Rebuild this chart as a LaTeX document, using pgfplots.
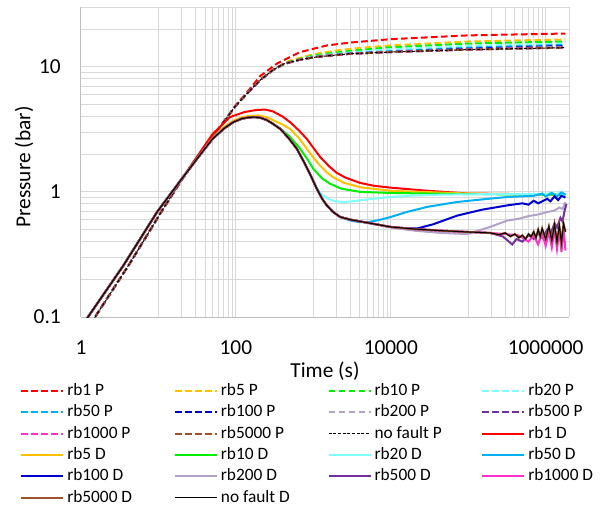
\documentclass[12pt,border=0pt]{standalone}
\usepackage{fontspec}
\setmainfont{Carlito}
\usepackage{pgfplots}
\pgfplotsset{compat=1.18}

\definecolor{cRed}{HTML}{FF0000}
\definecolor{cOrange}{HTML}{FFC000}
\definecolor{cGreen}{HTML}{00F000}
\definecolor{cCyan}{HTML}{80FFFF}
\definecolor{cLBlue}{HTML}{00B0F0}
\definecolor{cBlue}{HTML}{0000CC}
\definecolor{cLav}{HTML}{B3A2C7}
\definecolor{cPurple}{HTML}{7030A0}
\definecolor{cMag}{HTML}{FF33CC}
\definecolor{cBrown}{HTML}{A0522D}
\definecolor{gridgray}{HTML}{D9D9D9}
\definecolor{axisgray}{HTML}{BFBFBF}

\pgfplotsset{
  Pst/.style={dash pattern=on 5pt off 2.5pt, line width=1.5pt},
  Dst/.style={line width=1.5pt},
}

\begin{document}
\begin{tikzpicture}
\path[use as bounding box] (-60.75pt,-143.25pt) rectangle (392.25pt,237.75pt);
\begin{axis}[
  scale only axis,
  width=366pt, height=232.5pt,
  xmode=log, ymode=log,
  xmin=1, xmax=2e6, ymin=0.1, ymax=30,
  xtick={1,100,10000,1000000},
  xticklabels={1,100,10000,1000000},
  ytick={0.1,1,10},
  yticklabels={0.1,1,10},
  minor xtick={10,20,30,40,50,60,70,80,90,1000,2000,3000,4000,5000,6000,7000,8000,9000,100000,200000,300000,400000,500000,600000,700000,800000,900000,2000000},
  minor ytick={0.2,0.3,0.4,0.5,0.6,0.7,0.8,0.9,2,3,4,5,6,7,8,9,20,30},
  grid=both,
  major grid style={gridgray, line width=0.75pt},
  minor grid style={gridgray, line width=0.75pt},
  major tick length=0pt, minor tick length=0pt,
  axis x line*=bottom, axis y line*=left,
  axis line style={axisgray, line width=0.75pt, -},
  tick label style={font=\fontsize{16}{19}\selectfont},
  label style={font=\fontsize{16}{19}\selectfont},
  xticklabel style={anchor=north, inner sep=0pt, yshift=-17.4pt},
  yticklabel style={anchor=east, inner sep=0pt, xshift=-15pt},
  xlabel={Time (s)},
  ylabel={Pressure (bar)},
  xlabel style={at={(axis description cs:0.5,-0.174)}, anchor=center},
  ylabel style={at={(axis description cs:-0.1168,0.484)}, anchor=center},
  legend columns=4,
  legend style={at={(axis description cs:-0.125,-0.211)}, anchor=north west,
    draw=none, fill=none, inner sep=0pt, row sep=3.3pt,
    font=\fontsize{13}{15.6}\selectfont,
    nodes={inner sep=0pt, text height=9.5pt, text depth=3.2pt},
    /tikz/every odd column/.append style={column sep=2.25pt}},
  legend image code/.code={\draw[#1] (0pt,0pt) -- (31.5pt,0pt);},
  no markers,
]
% ---------- P curves (dashed) ----------
\addplot[cRed, Pst] coordinates {(1,0.063)(1.52,0.1)(4.3,0.27)(11,0.7)(20,1.25)(35,2.05)(60,3.2)(100,4.95)(150,6.6)(205,8.4)(340,10.6)(676,13.1)(1510,14.8)(3000,15.6)(10000,16.6)(100000,17.8)(1000000,18.3)(1800000,18.4)};
\addlegendentry{\makebox[80pt][l]{rb1 P}}
\addplot[cOrange, Pst] coordinates {(1,0.063)(1.52,0.1)(4.3,0.27)(11,0.7)(20,1.25)(35,2.05)(60,3.2)(100,4.9)(150,6.4)(205,7.85)(300,9.5)(500,11.2)(1000,12.6)(2000,13.5)(3000,13.9)(10000,14.8)(100000,15.9)(1000000,16.4)(1800000,16.5)};
\addlegendentry{\makebox[80pt][l]{rb5 P}}
\addplot[cGreen, Pst] coordinates {(1,0.063)(1.52,0.1)(4.3,0.27)(11,0.7)(20,1.25)(35,2.05)(60,3.2)(100,4.9)(150,6.4)(205,7.8)(300,9.4)(500,11.0)(1000,12.3)(2000,13.0)(3000,13.4)(10000,14.3)(100000,15.3)(1000000,15.8)(1800000,15.9)};
\addlegendentry{\makebox[80pt][l]{rb10 P}}
\addplot[cCyan, Pst] coordinates {(1,0.063)(1.52,0.1)(4.3,0.27)(11,0.7)(20,1.25)(35,2.05)(60,3.2)(100,4.9)(150,6.4)(205,7.8)(300,9.4)(411,10.5)(676,11.4)(1000,12.1)(3000,13.0)(10000,13.8)(100000,14.7)(1000000,15.2)(1800000,15.3)};
\addlegendentry{\makebox[80pt][l]{rb20 P}}
\addplot[cLBlue, Pst] coordinates {(1,0.063)(1.52,0.1)(4.3,0.27)(11,0.7)(20,1.25)(35,2.05)(60,3.2)(100,4.9)(150,6.4)(205,7.8)(300,9.4)(411,10.5)(676,11.4)(1120,12.0)(3000,12.8)(10000,13.3)(100000,14.2)(1000000,14.8)(1800000,14.95)};
\addlegendentry{\makebox[80pt][l]{rb50 P}}
\addplot[cBlue, Pst] coordinates {(1,0.063)(1.52,0.1)(4.3,0.27)(11,0.7)(20,1.25)(35,2.05)(60,3.2)(100,4.9)(150,6.4)(205,7.8)(300,9.4)(411,10.5)(676,11.4)(1120,12.0)(3000,12.7)(10000,13.15)(100000,13.9)(1000000,14.5)(1800000,14.6)};
\addlegendentry{\makebox[80pt][l]{rb100 P}}
\addplot[cLav, Pst] coordinates {(1,0.063)(1.52,0.1)(4.3,0.27)(11,0.7)(20,1.25)(35,2.05)(60,3.2)(100,4.9)(150,6.4)(205,7.8)(300,9.4)(411,10.5)(676,11.4)(1120,12.0)(3000,12.7)(10000,13.1)(100000,13.75)(1000000,14.3)(1800000,14.4)};
\addlegendentry{\makebox[80pt][l]{rb200 P}}
\addplot[cPurple, Pst] coordinates {(1,0.063)(1.52,0.1)(4.3,0.27)(11,0.7)(20,1.25)(35,2.05)(60,3.2)(100,4.9)(150,6.4)(205,7.8)(300,9.4)(411,10.5)(676,11.4)(1120,12.0)(3000,12.7)(10000,13.1)(100000,13.7)(1000000,14.15)(1800000,14.25)};
\addlegendentry{\makebox[80pt][l]{rb500 P}}
\addplot[cMag, Pst] coordinates {(1,0.063)(1.52,0.1)(4.3,0.27)(11,0.7)(20,1.25)(35,2.05)(60,3.2)(100,4.9)(150,6.4)(205,7.8)(300,9.4)(411,10.5)(676,11.4)(1120,12.0)(3000,12.7)(10000,13.1)(100000,13.7)(1000000,14.1)(1800000,14.2)};
\addlegendentry{\makebox[80pt][l]{rb1000 P}}
\addplot[cBrown, Pst] coordinates {(1,0.063)(1.52,0.1)(4.3,0.27)(11,0.7)(20,1.25)(35,2.05)(60,3.2)(100,4.9)(150,6.4)(205,7.8)(300,9.4)(411,10.5)(676,11.4)(1120,12.0)(3000,12.7)(10000,13.1)(100000,13.7)(1000000,14.1)(1800000,14.2)};
\addlegendentry{\makebox[80pt][l]{rb5000 P}}
\addplot[black, dash pattern=on 2.2pt off 1.3pt, line width=0.75pt] coordinates {(1,0.063)(1.52,0.1)(4.3,0.27)(11,0.7)(20,1.25)(35,2.05)(60,3.2)(100,4.9)(150,6.4)(205,7.8)(300,9.4)(411,10.5)(676,11.4)(1120,12.0)(3000,12.7)(10000,13.1)(100000,13.7)(1000000,14.1)(1800000,14.2)};
\addlegendentry{\makebox[80pt][l]{no fault P}}
% ---------- D curves (solid) ----------
\addplot[cRed, Dst] coordinates {(1,0.083)(1.23,0.1)(3.5,0.256)(9.6,0.69)(20,1.27)(35,2.1)(50,2.9)(84,3.96)(130,4.35)(180,4.5)(238,4.55)(300,4.4)(400,4.0)(500,3.61)(650,3.1)(824,2.65)(1000,2.25)(1224,1.9)(1600,1.6)(2000,1.42)(2600,1.3)(4000,1.18)(6000,1.12)(10000,1.08)(30000,1.02)(100000,0.97)(1800000,0.95)};
\addlegendentry{\makebox[80pt][l]{rb1 D}}
\addplot[cOrange, Dst] coordinates {(1,0.083)(1.23,0.1)(3.5,0.256)(9.6,0.69)(20,1.27)(35,2.0)(50,2.7)(70,3.3)(92,3.7)(120,3.95)(150,4.05)(195,4.08)(250,3.95)(300,3.75)(400,3.45)(500,3.19)(650,2.7)(824,2.21)(1000,1.88)(1224,1.62)(1500,1.43)(1800,1.31)(2500,1.18)(4000,1.09)(10000,1.02)(100000,0.97)(1800000,0.95)};
\addlegendentry{\makebox[80pt][l]{rb5 D}}
\addplot[cGreen, Dst] coordinates {(1,0.083)(1.23,0.1)(3.5,0.256)(9.6,0.69)(20,1.27)(35,2.0)(50,2.65)(70,3.2)(92,3.6)(120,3.85)(150,3.94)(177,3.96)(210,3.9)(250,3.75)(300,3.52)(372,3.22)(500,2.75)(676,2.21)(850,1.8)(1000,1.53)(1300,1.28)(1650,1.16)(2300,1.06)(4000,1.0)(10000,0.98)(100000,0.96)(1800000,0.95)};
\addlegendentry{\makebox[80pt][l]{rb10 D}}
\addplot[cCyan, Dst] coordinates {(1,0.083)(1.23,0.1)(3.5,0.256)(9.6,0.69)(20,1.27)(35,2.0)(50,2.65)(70,3.2)(92,3.6)(120,3.85)(150,3.94)(177,3.96)(210,3.9)(250,3.75)(300,3.5)(372,3.19)(430,2.9)(500,2.6)(612,2.21)(750,1.75)(910,1.38)(1100,1.08)(1300,0.95)(1600,0.87)(2000,0.84)(2450,0.83)(3200,0.84)(4000,0.855)(5900,0.88)(10000,0.91)(20000,0.935)(44000,0.95)(200000,0.96)(1000000,0.96)(1200000,0.99)(1350000,0.93)(1500000,1.0)(1650000,0.93)(1800000,0.96)};
\addlegendentry{\makebox[80pt][l]{rb20 D}}
\addplot[cLBlue, Dst] coordinates {(1,0.083)(1.23,0.1)(3.5,0.256)(9.6,0.69)(20,1.27)(35,2.0)(50,2.65)(70,3.2)(92,3.6)(120,3.85)(150,3.94)(177,3.96)(210,3.9)(250,3.75)(300,3.5)(372,3.19)(430,2.9)(500,2.6)(612,2.21)(750,1.75)(910,1.38)(1100,1.07)(1300,0.88)(1490,0.78)(1800,0.69)(2220,0.63)(3000,0.59)(4000,0.572)(5000,0.572)(7000,0.595)(10000,0.63)(16000,0.69)(30000,0.76)(72000,0.83)(150000,0.87)(320000,0.91)(700000,0.93)(900000,0.97)(1000000,0.92)(1200000,0.98)(1400000,0.92)(1600000,0.99)(1800000,0.95)};
\addlegendentry{\makebox[80pt][l]{rb50 D}}
\addplot[cBlue, Dst] coordinates {(1,0.083)(1.23,0.1)(3.5,0.256)(9.6,0.69)(20,1.27)(35,2.0)(50,2.65)(70,3.2)(92,3.6)(120,3.85)(150,3.94)(177,3.96)(210,3.9)(250,3.75)(300,3.5)(372,3.19)(430,2.9)(500,2.6)(612,2.21)(750,1.75)(910,1.38)(1100,1.07)(1300,0.88)(1490,0.78)(1800,0.69)(2220,0.63)(3000,0.6)(4370,0.575)(6500,0.55)(9800,0.525)(15000,0.512)(22000,0.51)(35000,0.55)(72000,0.646)(150000,0.72)(320000,0.78)(500000,0.81)(600000,0.79)(700000,0.85)(800000,0.81)(1050000,0.88)(1150000,0.84)(1300000,0.92)(1450000,0.86)(1600000,0.93)(1800000,0.9)};
\addlegendentry{\makebox[80pt][l]{rb100 D}}
\addplot[cLav, Dst] coordinates {(1,0.083)(1.23,0.1)(3.5,0.256)(9.6,0.69)(20,1.27)(35,2.0)(50,2.65)(70,3.2)(92,3.6)(120,3.85)(150,3.94)(177,3.96)(210,3.9)(250,3.75)(300,3.5)(372,3.19)(430,2.9)(500,2.6)(612,2.21)(750,1.75)(910,1.38)(1100,1.07)(1300,0.88)(1490,0.78)(1800,0.69)(2220,0.63)(3000,0.6)(4370,0.575)(6500,0.55)(9800,0.52)(20000,0.49)(43600,0.47)(97000,0.46)(150000,0.5)(200000,0.53)(320000,0.59)(450000,0.61)(600000,0.64)(800000,0.66)(1050000,0.69)(1300000,0.71)(1500000,0.75)(1650000,0.73)(1800000,0.83)};
\addlegendentry{\makebox[80pt][l]{rb200 D}}
\addplot[cPurple, Dst] coordinates {(1,0.083)(1.23,0.1)(3.5,0.256)(9.6,0.69)(20,1.27)(35,2.0)(50,2.65)(70,3.2)(92,3.6)(120,3.85)(150,3.94)(177,3.96)(210,3.9)(250,3.75)(300,3.5)(372,3.19)(430,2.9)(500,2.6)(612,2.21)(750,1.75)(910,1.38)(1100,1.07)(1300,0.88)(1490,0.78)(1800,0.69)(2220,0.63)(3000,0.6)(4370,0.575)(6500,0.55)(9800,0.525)(20000,0.505)(43600,0.49)(100000,0.478)(190000,0.47)(280000,0.44)(370000,0.38)(420000,0.42)(500000,0.40)(600000,0.45)(700000,0.42)(800000,0.47)(900000,0.43)(1050000,0.5)(1150000,0.46)(1300000,0.56)(1400000,0.52)(1550000,0.62)(1650000,0.58)(1750000,0.7)(1850000,0.8)};
\addlegendentry{\makebox[80pt][l]{rb500 D}}
\addplot[cMag, Dst] coordinates {(1,0.083)(1.23,0.1)(3.5,0.256)(9.6,0.69)(20,1.27)(35,2.0)(50,2.65)(70,3.2)(92,3.6)(120,3.85)(150,3.94)(177,3.96)(210,3.9)(250,3.75)(300,3.5)(372,3.19)(430,2.9)(500,2.6)(612,2.21)(750,1.75)(910,1.38)(1100,1.07)(1300,0.88)(1490,0.78)(1800,0.69)(2220,0.63)(3000,0.6)(4370,0.575)(6500,0.55)(9800,0.525)(20000,0.505)(43600,0.49)(100000,0.478)(190000,0.47)(300000,0.46)(440000,0.45)(500000,0.43)(600000,0.40)(700000,0.45)(800000,0.38)(900000,0.47)(1000000,0.37)(1100000,0.48)(1200000,0.36)(1300000,0.5)(1400000,0.35)(1500000,0.5)(1600000,0.33)(1700000,0.52)(1800000,0.34)};
\addlegendentry{\makebox[80pt][l]{rb1000 D}}
\addplot[cBrown, Dst] coordinates {(1,0.083)(1.23,0.1)(3.5,0.256)(9.6,0.69)(20,1.27)(35,2.0)(50,2.65)(70,3.2)(92,3.6)(120,3.85)(150,3.94)(177,3.96)(210,3.9)(250,3.75)(300,3.5)(372,3.19)(430,2.9)(500,2.6)(612,2.21)(750,1.75)(910,1.38)(1100,1.07)(1300,0.88)(1490,0.78)(1800,0.69)(2220,0.63)(3000,0.6)(4370,0.575)(6500,0.55)(9800,0.525)(20000,0.505)(43600,0.49)(100000,0.478)(190000,0.47)(250000,0.455)(300000,0.47)(350000,0.44)(400000,0.46)(450000,0.43)(500000,0.45)(550000,0.42)(600000,0.46)(650000,0.44)(700000,0.48)(750000,0.43)(800000,0.5)(850000,0.44)(900000,0.51)(1000000,0.42)(1100000,0.53)(1200000,0.41)(1300000,0.55)(1400000,0.4)(1500000,0.54)(1600000,0.39)(1700000,0.56)(1800000,0.48)};
\addlegendentry{\makebox[80pt][l]{rb5000 D}}
\addplot[black, line width=0.75pt] coordinates {(1,0.083)(1.23,0.1)(3.5,0.256)(9.6,0.69)(20,1.27)(35,2.0)(50,2.65)(70,3.2)(92,3.6)(120,3.85)(150,3.94)(177,3.96)(210,3.9)(250,3.75)(300,3.5)(372,3.19)(430,2.9)(500,2.6)(612,2.21)(750,1.75)(910,1.38)(1100,1.07)(1300,0.88)(1490,0.78)(1800,0.69)(2220,0.63)(3000,0.6)(4370,0.575)(6500,0.55)(9800,0.525)(20000,0.505)(43600,0.49)(100000,0.478)(190000,0.47)(250000,0.455)(300000,0.47)(350000,0.44)(400000,0.46)(450000,0.43)(500000,0.45)(550000,0.42)(600000,0.46)(650000,0.44)(700000,0.48)(750000,0.43)(800000,0.5)(850000,0.44)(900000,0.51)(1000000,0.42)(1100000,0.53)(1200000,0.41)(1300000,0.55)(1400000,0.4)(1500000,0.54)(1600000,0.39)(1700000,0.56)(1800000,0.48)};
\addlegendentry{\makebox[80pt][l]{no fault D}}
\end{axis}
\end{tikzpicture}
\end{document}
